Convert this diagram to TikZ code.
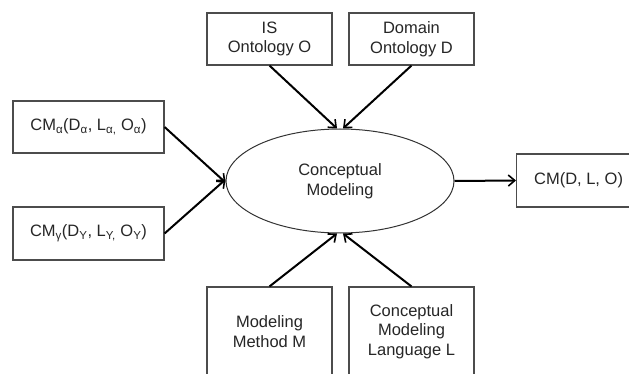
\documentclass[tikz,border=0pt]{standalone}
\usepackage{fontspec}
\setmainfont{Liberation Sans}
\usetikzlibrary{arrows.meta,shapes.geometric}
\begin{document}
\begin{tikzpicture}[x=1pt,y=-1pt,
  box/.style={draw=black!70,line width=1.1pt,rectangle,inner sep=0pt,align=center,
    font=\fontsize{16.5}{19.5}\selectfont,text=black!85},
  arr/.style={line width=2pt,-{Straight Barb[length=6.5pt,width=11pt,line width=1.6pt]}}]
\useasboundingbox (0,0) rectangle (629,374);
\clip (0,0) rectangle (629,374);
\node[box,minimum width=125pt,minimum height=52pt] (is) at (269.5,39) {IS\\Ontology O};
\node[box,minimum width=125pt,minimum height=52pt] (dom) at (411.5,39) {Domain\\Ontology D};
\node[box,minimum width=151pt,minimum height=52pt] (cma) at (88.5,127)
  {CM\textsubscript{α}(D\textsubscript{α}, L\textsubscript{α,} O\textsubscript{α})};
\node[box,minimum width=151pt,minimum height=53pt] (cmg) at (88.5,233.5)
  {CM\textsubscript{γ}(D\textsubscript{Y}, L\textsubscript{Y,} O\textsubscript{Y})};
\node[box,minimum width=125pt,minimum height=89pt] (mm) at (269.5,331.5) {Modeling\\Method M};
\node[box,minimum width=125pt,minimum height=89pt] (cml) at (411.5,331.5) {Conceptual\\Modeling\\Language L};
\node[box,minimum width=150pt,minimum height=53pt,anchor=west] (out) at (516,180.5) {CM(D, L, O)\hspace*{26pt}};
\node[ellipse,draw=black!80,line width=1pt,minimum width=228pt,minimum height=104pt,inner sep=0pt,
  align=center,font=\fontsize{16.5}{19.5}\selectfont,text=black!85] (cm) at (340,181) {Conceptual\\Modeling};
\draw[arr] (is.south) -- ([xshift=-3pt]cm.north);
\draw[arr] (dom.south) -- ([xshift=3pt]cm.north);
\draw[arr] (cma.east) -- ([yshift=-1.5pt]cm.west);
\draw[arr] (cmg.east) -- ([yshift=1.5pt]cm.west);
\draw[arr] (mm.north) -- ([xshift=-3pt]cm.south);
\draw[arr] (cml.north) -- ([xshift=3pt]cm.south);
\draw[arr] (cm.east) -- (out.west);
\end{tikzpicture}
\end{document}
